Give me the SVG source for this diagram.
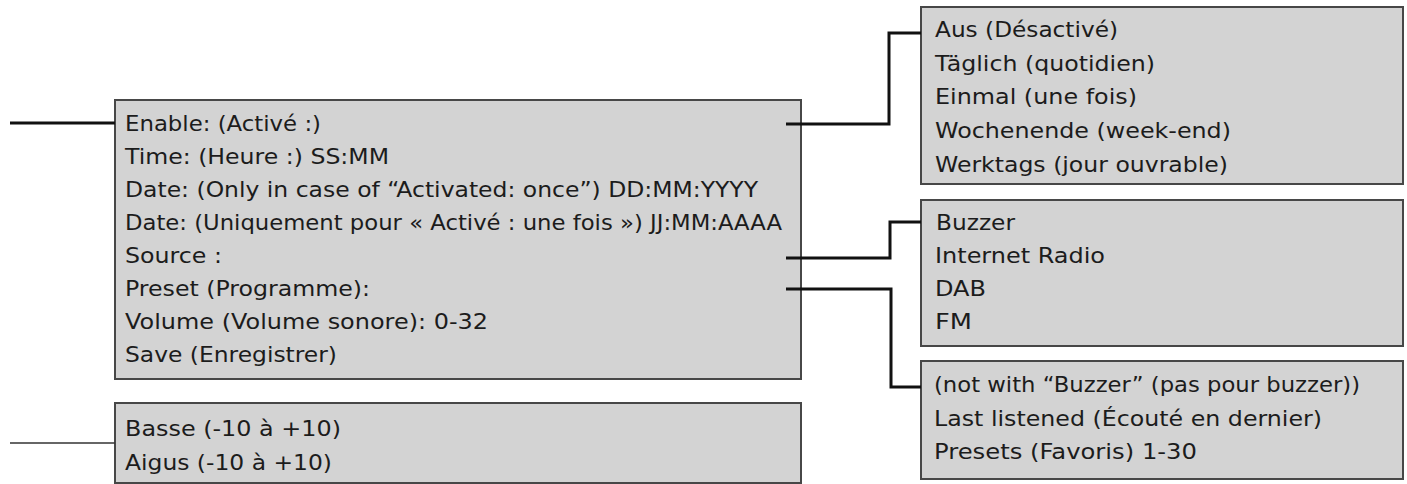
<svg xmlns="http://www.w3.org/2000/svg" width="1407" height="484" viewBox="0 0 1407 484">
<style>
.box{fill:#d3d3d3;stroke:#474747;stroke-width:2}
.t{font-family:"DejaVu Sans","Liberation Sans",sans-serif;font-size:22px;fill:#1c1c1c}
.conn{fill:none;stroke:#111;stroke-width:3;stroke-linejoin:miter}
.thin{fill:none;stroke:#333;stroke-width:1.4}
</style>
<rect width="1407" height="484" fill="#ffffff"/>
<g id="main">
<rect class="box" x="115" y="100" width="686" height="279"/>
<text class="t" x="125" y="131" textLength="196" lengthAdjust="spacingAndGlyphs">Enable: (Activé :)</text>
<text class="t" x="125" y="164" textLength="264" lengthAdjust="spacingAndGlyphs">Time: (Heure :) SS:MM</text>
<text class="t" x="125" y="197" textLength="633" lengthAdjust="spacingAndGlyphs">Date: (Only in case of “Activated: once”) DD:MM:YYYY</text>
<text class="t" x="125" y="230" textLength="657" lengthAdjust="spacingAndGlyphs">Date: (Uniquement pour « Activé : une fois ») JJ:MM:AAAA</text>
<text class="t" x="125" y="263" textLength="97" lengthAdjust="spacingAndGlyphs">Source :</text>
<text class="t" x="125" y="296" textLength="245" lengthAdjust="spacingAndGlyphs">Preset (Programme):</text>
<text class="t" x="125" y="329" textLength="363" lengthAdjust="spacingAndGlyphs">Volume (Volume sonore): 0-32</text>
<text class="t" x="125" y="362" textLength="212" lengthAdjust="spacingAndGlyphs">Save (Enregistrer)</text>
</g>
<g id="tone">
<rect class="box" x="115" y="403" width="686" height="80"/>
<text class="t" x="125" y="436" textLength="216" lengthAdjust="spacingAndGlyphs">Basse (-10 à +10)</text>
<text class="t" x="125" y="470" textLength="207" lengthAdjust="spacingAndGlyphs">Aigus (-10 à +10)</text>
</g>
<g id="repeat">
<rect class="box" x="921" y="7" width="482" height="177"/>
<text class="t" x="935" y="37" textLength="183" lengthAdjust="spacingAndGlyphs">Aus (Désactivé)</text>
<text class="t" x="935" y="71" textLength="220" lengthAdjust="spacingAndGlyphs">Täglich (quotidien)</text>
<text class="t" x="935" y="104" textLength="202" lengthAdjust="spacingAndGlyphs">Einmal (une fois)</text>
<text class="t" x="935" y="138" textLength="296" lengthAdjust="spacingAndGlyphs">Wochenende (week-end)</text>
<text class="t" x="935" y="172" textLength="293" lengthAdjust="spacingAndGlyphs">Werktags (jour ouvrable)</text>
</g>
<g id="source">
<rect class="box" x="921" y="200" width="482" height="146"/>
<text class="t" x="936" y="230" textLength="79" lengthAdjust="spacingAndGlyphs">Buzzer</text>
<text class="t" x="935" y="263" textLength="170" lengthAdjust="spacingAndGlyphs">Internet Radio</text>
<text class="t" x="935" y="296" textLength="51" lengthAdjust="spacingAndGlyphs">DAB</text>
<text class="t" x="935" y="329" textLength="37" lengthAdjust="spacingAndGlyphs">FM</text>
</g>
<g id="preset">
<rect class="box" x="921" y="361" width="482" height="118"/>
<text class="t" x="934" y="392" textLength="426" lengthAdjust="spacingAndGlyphs">(not with “Buzzer” (pas pour buzzer))</text>
<text class="t" x="934" y="426" textLength="388" lengthAdjust="spacingAndGlyphs">Last listened (Écouté en dernier)</text>
<text class="t" x="934" y="459" textLength="263" lengthAdjust="spacingAndGlyphs">Presets (Favoris) 1-30</text>
</g>
<g id="connectors">
<path class="conn" d="M10,123 H115" stroke-width="2.7"/>
<path class="thin" d="M10,443 H115"/>
<path class="conn" d="M786,124 H889 V33 H921"/>
<path class="conn" d="M786,258 H890 V222 H921"/>
<path class="conn" d="M786,289 H891 V387 H921"/>
</g>
</svg>
